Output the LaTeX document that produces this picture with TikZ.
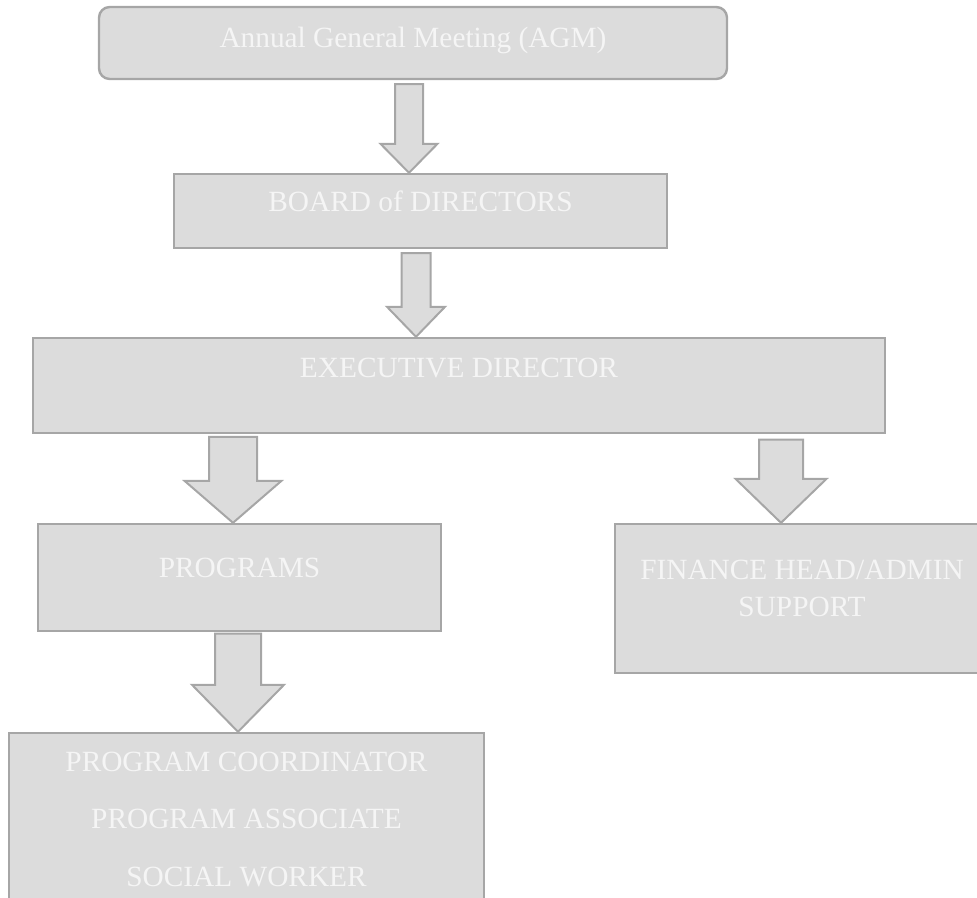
\documentclass[tikz,border=0pt]{standalone}
\usepackage{fontspec}
\setmainfont{Liberation Serif}
\usepackage{tikz}
\usetikzlibrary{calc,fit}
\definecolor{boxfill}{HTML}{DCDCDC}
\definecolor{boxline}{HTML}{A6A6A6}
\definecolor{boxtext}{HTML}{F5F5F5}
% 空心箭头: #1 起点, #2 箭尖, #3 杆半宽, #4 头半宽, #5 头长
\newcommand{\blockarrow}[5]{%
  \draw[arrowblk] ($(#1)+(-#3,0)$) -- ($(#1)+(#3,0)$) -- ($(#2)+(#3,-#5)$)
    -- ($(#2)+(#4,-#5)$) -- (#2) -- ($(#2)+(-#4,-#5)$) -- ($(#2)+(-#3,-#5)$) -- cycle;}
\begin{document}
\begin{tikzpicture}[x=0.75pt,y=-0.75pt,
  box/.style={draw=boxline,fill=boxfill,line width=1.8pt,inner sep=0pt},
  arrowblk/.style={draw=boxline,fill=boxfill,line width=1.5pt,line join=miter},
  lbl/.style={text=boxtext,anchor=base,inner sep=0pt,font=\fontsize{22}{26}\selectfont}]
\useasboundingbox (0,0) rectangle (977,898);
					% 方框
					\node[box,rounded corners=8pt,fit={(99,7) (727,79)}] (agm) {};
					\node[box,fit={(174,174) (667,248)}] (board) {};
					\node[box,fit={(33,338) (885,433)}] (exec) {};
					\node[box,fit={(38,524) (441,631)}] (prog) {};
					\node[box,fit={(615,524) (990,673)}] (fin) {};
					\node[box,fit={(9,733) (484,910)}] (staff) {};
					% 文字
					\node[lbl] (agmtxt) at (413,48) {Annual General Meeting (AGM)};
					\node[lbl] (boardtxt) at (420.5,212) {BOARD of DIRECTORS};
					\node[lbl] (exectxt) at (459,377) {EXECUTIVE DIRECTOR};
					\node[lbl] (progtxt) at (239.5,577) {PROGRAMS};
					\node[lbl] (fintxta) at (802,579) {FINANCE HEAD/ADMIN};
					\node[lbl] (fintxtb) at (802,616) {SUPPORT};
					\node[lbl] (stafftxta) at (246.5,771) {PROGRAM COORDINATOR};
					\node[lbl] (stafftxtb) at (246.5,828) {PROGRAM ASSOCIATE};
					\node[lbl] (stafftxtc) at (246.5,886) {SOCIAL WORKER};
					% 箭头端点
					\coordinate (a1s) at ([yshift=-3pt]409,0 |- agm.south);
					\coordinate (a1e) at (409,0 |- board.north);
					\coordinate (a2s) at ([yshift=-3pt]416,0 |- board.south);
					\coordinate (a2e) at (416,0 |- exec.north);
					\coordinate (a3s) at ([yshift=-2pt]233,0 |- exec.south);
					\coordinate (a3e) at (233,0 |- prog.north);
					\coordinate (a4s) at ([yshift=-4pt]781,0 |- exec.south);
					\coordinate (a4e) at (781,0 |- fin.north);
					\coordinate (a5s) at ([yshift=-1pt]238,0 |- prog.south);
					\coordinate (a5e) at (238,0 |- staff.north);
					% 箭头
					\blockarrow{a1s}{a1e}{14}{28.5}{29}
					\blockarrow{a2s}{a2e}{14.5}{29}{30}
					\blockarrow{a3s}{a3e}{24}{48.5}{42}
					\blockarrow{a4s}{a4e}{22}{45.5}{44}
					\blockarrow{a5s}{a5e}{23}{46}{47}
\end{tikzpicture}
\end{document}
